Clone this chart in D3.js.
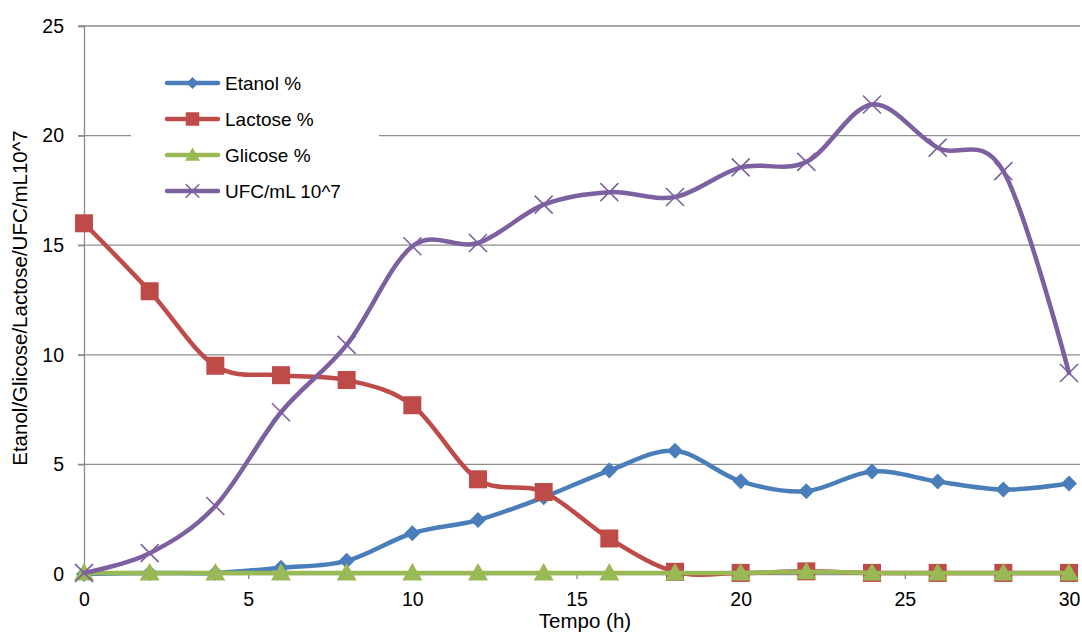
<!DOCTYPE html>
<html><head><meta charset="utf-8">
<script src="https://cdnjs.cloudflare.com/ajax/libs/d3/7.8.5/d3.min.js"></script>
<style>body{margin:0;background:#fff}svg{display:block;font-family:"Liberation Sans",Arial,sans-serif}</style>
</head><body><svg id="c" width="1082" height="633"></svg>
<script>
const hours = [0,2,4,6,8,10,12,14,16,18,20,22,24,26,28,30];
const etanol = [0,0.05,0.05,0.28,0.6,1.86,2.46,3.5,4.72,5.62,4.23,3.78,4.68,4.22,3.85,4.13];
const lactose = [16.0,12.9,9.5,9.07,8.85,7.7,4.32,3.74,1.62,0.1,0.05,0.12,0.05,0.05,0.05,0.05];
const glicose = [0.05,0.05,0.05,0.05,0.05,0.05,0.05,0.05,0.05,0.05,0.05,0.1,0.05,0.05,0.05,0.05];
const ufc = [0.05,0.95,3.1,7.38,10.45,14.95,15.1,16.85,17.42,17.2,18.55,18.8,21.42,19.45,18.38,9.17];
const seriesNames = ["Etanol %","Lactose %","Glicose %","UFC/mL 10^7"];
const xTicks = [0,5,10,15,20,25,30];
const yTicks = [0,5,10,15,20,25];

const series = [
  {name: seriesNames[0], values: etanol, color: "#4A7EBB", marker: "diamond"},
  {name: seriesNames[1], values: lactose, color: "#BE4B48", marker: "square"},
  {name: seriesNames[2], values: glicose, color: "#98B954", marker: "triangle"},
  {name: seriesNames[3], values: ufc, color: "#7D60A0", marker: "x"}
];

const svg = d3.select("#c");
const L = 84, R = 1069, T = 26, B = 574;
const x = d3.scaleLinear().domain([0,30]).range([L,R]);
const y = d3.scaleLinear().domain([0,25]).range([B,T]);

// gridlines
svg.append("g").selectAll("line").data(yTicks.filter(d=>d>0)).join("line")
  .attr("x1", L-6).attr("x2", R+11).attr("y1", d=>y(d)).attr("y2", d=>y(d))
  .attr("stroke", "#8c8c8c").attr("stroke-width", 1.3);

// y axis
const ya = svg.append("g").attr("transform", `translate(${L},0)`)
  .call(d3.axisLeft(y).tickValues(yTicks).tickSize(6).tickPadding(14));
ya.select(".domain").attr("stroke", "#8c8c8c").attr("stroke-width", 1.3);
ya.selectAll(".tick line").attr("stroke", "#8c8c8c").attr("stroke-width", 1.3);
ya.selectAll("text").attr("font-size", 19.5).attr("fill", "#000").attr("font-family", "Liberation Sans, Arial, sans-serif");

// x axis
const xa = svg.append("g").attr("transform", `translate(0,${B})`)
  .call(d3.axisBottom(x).tickValues(xTicks).tickSize(5).tickPadding(13));
xa.select(".domain").attr("stroke", "#8c8c8c").attr("stroke-width", 1.3);
xa.selectAll(".tick line").attr("stroke", "#8c8c8c").attr("stroke-width", 1.3);
xa.selectAll("text").attr("font-size", 19.5).attr("fill", "#000").attr("font-family", "Liberation Sans, Arial, sans-serif");

// titles
svg.append("text").attr("x", 585).attr("y", 628).attr("text-anchor", "middle")
  .attr("font-size", 20.5).text("Tempo (h)");
svg.append("text").attr("transform", "translate(27,298) rotate(-90)").attr("text-anchor", "middle")
  .attr("font-size", 20.5).text("Etanol/Glicose/Lactose/UFC/mL10^7");

// legend background
svg.append("rect").attr("x", 131).attr("y", 60).attr("width", 248).attr("height", 150).attr("fill", "#fff");

const line = d3.line().x((d,i)=>x(hours[i])).y(d=>y(d)).curve(d3.curveCardinal.tension(0));

function drawMarker(g, type, cx, cy, color, k){
  k = k || 1;
  if (type === "diamond") {
    const s = 8*k;
    g.append("path").attr("d", `M${cx},${cy-s}L${cx+s},${cy}L${cx},${cy+s}L${cx-s},${cy}Z`).attr("fill", color);
  } else if (type === "square") {
    const s = 9*k;
    g.append("rect").attr("x", cx-s).attr("y", cy-s).attr("width", 2*s).attr("height", 2*s).attr("fill", color);
  } else if (type === "triangle") {
    const s = 10*k;
    g.append("path").attr("d", `M${cx},${cy-s}L${cx+s},${cy+s*0.75}L${cx-s},${cy+s*0.75}Z`).attr("fill", color);
  } else {
    const s = 9*k;
    g.append("path").attr("d", `M${cx-s},${cy-s}L${cx+s},${cy+s}M${cx+s},${cy-s}L${cx-s},${cy+s}`)
      .attr("stroke", color).attr("stroke-width", 1.6).attr("fill", "none");
  }
}

series.forEach(s => {
  const g = svg.append("g");
  g.append("path").datum(s.values).attr("d", line).attr("fill", "none")
    .attr("stroke", s.color).attr("stroke-width", 4.5).attr("stroke-linejoin", "round").attr("stroke-linecap", "round");
  s.values.forEach((v,i) => drawMarker(g, s.marker, x(hours[i]), y(v), s.color));
});

// legend
const legY = [83, 119, 155, 191];
series.forEach((s, i) => {
  const g = svg.append("g");
  g.append("line").attr("x1", 167).attr("x2", 218).attr("y1", legY[i]).attr("y2", legY[i])
    .attr("stroke", s.color).attr("stroke-width", 4.5).attr("stroke-linecap", "round");
  drawMarker(g, s.marker, 192.5, legY[i], s.color, 0.75);
  g.append("text").attr("x", 225).attr("y", legY[i]+7).attr("font-size", 19).text(s.name);
});
</script></body></html>
